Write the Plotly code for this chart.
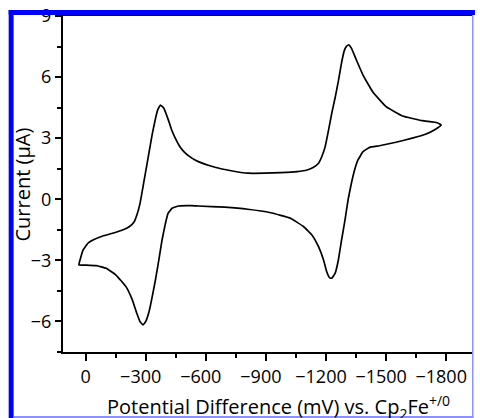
import plotly.graph_objects as go

# Cyclic voltammogram: potential (mV vs Cp2Fe+/0) and current (uA), one closed scan
potential_mV = [34.5, 26, 13, -11, -36, -85, -134, -184, -217, -242, -258, -271, -283,
                -291, -299, -316, -332, -349, -360, -373, -390, -414, -430, -447, -470,
                -496, -530, -562,
                -645, -726, -809, -891, -973, -1055, -1105, -1137, -1162, -1178, -1195,
                -1212, -1228, -1245, -1261, -1275, -1289, -1302, -1313, -1326, -1351,
                -1384, -1434, -1499, -1581, -1680, -1754, -1774,
                -1746, -1696, -1630, -1548, -1466, -1417, -1384, -1359, -1342, -1326,
                -1310, -1294, -1277, -1261, -1245, -1228, -1217, -1203, -1187, -1162,
                -1129, -1088, -1022, -923, -809, -694, -562, -529, -464, -431, -411,
                -398, -381, -365, -348, -332, -316, -299, -286, -271, -255, -233, -201,
                -151, -102, -53, -3, 34.5]
current_uA = [-3.23, -2.90, -2.49, -2.16, -2.0, -1.80, -1.67, -1.51, -1.35, -1.10, -0.69,
              -0.20, 0.45, 0.90, 1.35, 2.30, 3.20, 4.00, 4.40, 4.63, 4.47, 3.85, 3.38,
              3.00, 2.58, 2.28, 2.02, 1.85,
              1.57, 1.40, 1.28, 1.28, 1.31, 1.36, 1.44, 1.57, 1.77, 2.09,
              2.58, 3.40, 4.22, 5.00, 5.80, 6.60, 7.25, 7.52, 7.58, 7.42, 6.84, 6.10,
              5.25, 4.55, 4.09, 3.86, 3.76, 3.65,
              3.44, 3.19, 3.0, 2.80, 2.63, 2.55, 2.34, 1.93, 1.44, 0.79, 0.0, -1.02,
              -2.0, -2.98, -3.63, -3.88, -3.85, -3.56, -2.98, -2.33, -1.75, -1.35, -0.93,
              -0.66, -0.49, -0.39, -0.33, -0.31, -0.33, -0.44, -0.69, -1.18, -2.0, -2.98,
              -3.96, -4.78, -5.52, -6.01, -6.17, -6.01, -5.60, -4.95, -4.29, -3.72, -3.39,
              -3.26, -3.23, -3.23]

x_ticks = [0, -300, -600, -900, -1200, -1500, -1800]
y_ticks = [-6, -3, 0, 3, 6, 9]

W, H = 480, 418
L, R, T, B = 63, 3, 16, 66
pw, ph = W - L - R, H - T - B

def px(x):
    return (x - L) / pw

def py(y):
    return (H - B - y) / ph

def xlabel(v):
    # digits centred under the tick, minus sign hanging to the left
    return "0" if v == 0 else "\u2212" + str(abs(v)) + "\u2007"

font = "Open Sans, DejaVu Sans, sans-serif"

fig = go.Figure()
fig.add_trace(go.Scatter(x=potential_mV, y=current_uA, mode="lines",
                         line=dict(color="black", width=1.7, shape="spline", smoothing=0.3),
                         hoverinfo="skip", showlegend=False))

fig.update_layout(
    width=W, height=H,
    margin=dict(l=L, r=R, t=T, b=B),
    paper_bgcolor="white", plot_bgcolor="white",
    font=dict(family=font, size=18, color="black"),
    xaxis=dict(range=[113.4, -1928], tickmode="array", tickvals=x_ticks,
               ticktext=[xlabel(v) for v in x_ticks], tickangle=0,
               ticklabeloverflow="allow",
               ticks="outside", ticklen=7, tickwidth=1.5, tickcolor="black",
               showline=True, linewidth=2, linecolor="black", mirror=True,
               showgrid=False, zeroline=False,
               minor=dict(dtick=150, tick0=0, ticks="outside", ticklen=4,
                          tickwidth=1.5, tickcolor="black", showgrid=False),
               tickfont=dict(size=18)),
    yaxis=dict(range=[-7.5, 9], tickmode="array", tickvals=y_ticks,
               ticklabeloverflow="allow",
               ticks="outside", ticklen=6, tickwidth=1.5, tickcolor="black",
               showline=True, linewidth=2, linecolor="black",
               showgrid=False, zeroline=False,
               minor=dict(dtick=1.5, tick0=0, ticks="outside", ticklen=4,
                          tickwidth=1.5, tickcolor="black", showgrid=False),
               tickfont=dict(size=18)),
    annotations=[
        dict(text="Current (µA)", xref="paper", yref="paper",
             x=px(21), y=py(185), xanchor="center", yanchor="middle",
             textangle=-90, showarrow=False, font=dict(size=20)),
        dict(text="Potential Difference (mV) vs. Cp<sub>2</sub>Fe<sup>+/0</sup>",
             xref="paper", yref="paper", x=px(281), y=py(407),
             xanchor="center", yanchor="middle", showarrow=False,
             font=dict(size=20)),
    ],
    shapes=[
        dict(type="rect", xref="paper", yref="paper", x0=px(8), x1=px(480),
             y0=py(15), y1=py(10), fillcolor="#0000ff", line=dict(width=0), layer="above"),
        dict(type="rect", xref="paper", yref="paper", x0=px(8), x1=px(13),
             y0=py(418), y1=py(10), fillcolor="#0000ff", line=dict(width=0), layer="above"),
        dict(type="rect", xref="paper", yref="paper", x0=px(477), x1=px(478.5),
             y0=py(418), y1=py(15), fillcolor="#8f8fff", line=dict(width=0), layer="above"),
        dict(type="rect", xref="paper", yref="paper", x0=px(13), x1=px(478.5),
             y0=py(418), y1=py(416), fillcolor="#8f8fff", line=dict(width=0), layer="above"),
    ],
)

fig.write_html("out.html")
